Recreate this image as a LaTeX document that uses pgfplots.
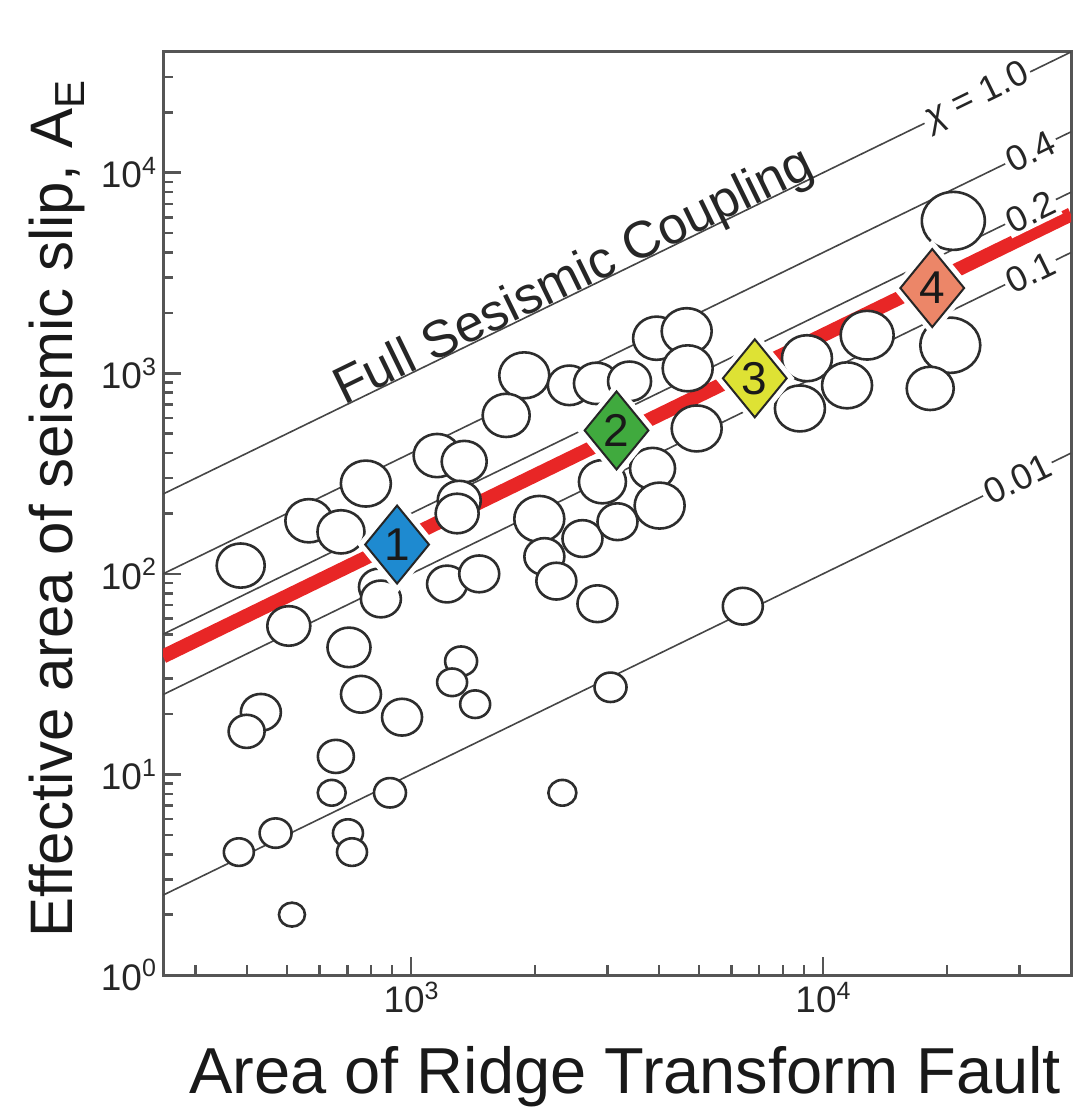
\documentclass[border=0pt]{standalone}
\usepackage{fontspec}
\setmainfont{Liberation Sans}
\usepackage{pgfplots}
\pgfplotsset{compat=1.18}
\usepackage{pgfplotstable}

\definecolor{ringcol}{RGB}{45,45,45}
\definecolor{guide}{RGB}{70,70,70}
\definecolor{fitred}{RGB}{232,38,38}
\definecolor{framecol}{RGB}{85,85,85}
\definecolor{dblue}{RGB}{30,138,208}
\definecolor{dgreen}{RGB}{64,170,62}
\definecolor{dyellow}{RGB}{222,226,52}
\definecolor{dsalmon}{RGB}{236,134,104}

% transform faults: fault area, effective seismic area, symbol diameter
\pgfplotstableread{
x y d
386 110 48
565 184 47
676 162 47
777 282 50
505 55 43
707 43 43
432 20.4 40
399 16.4 36
756 25.1 40
951 19.3 40
657 12.3 36
642 8.1 28
889 8.1 32
469 5.1 32
382 4.1 30
703 5.1 30
719 4.1 30
514 2.0 26
836 86 40
845 75 40
1157 389 47
1346 363 45
1309 232 43
1294 200 43
1223 89 40
1464 100 40
1323 36.7 32
1258 28.8 30
1431 22.4 30
1883 977 50
1702 617 47
2048 188 50
2607 150 40
2107 122 40
2253 92 40
2835 71 40
3050 27.2 32
2330 8.1 28
6388 69 40
2423 871 43
2819 891 45
3392 912 43
3946 1496 47
4668 1622 50
4694 1059 50
4936 531 50
3858 335 45
2915 288 47
4013 219 50
3171 182 40
20720 5754 63
12800 1549 53
9143 1189 50
11440 871 50
8790 668 50
20370 1380 60
18210 841 47
}\faults

% group averages along the fit
\pgfplotstableread{
x y
925 140
3154 519
6831 944
18420 2661
}\groups

\newcommand{\pow}[2]{#1\raisebox{0.36em}{\fontsize{12.5}{12.5}\selectfont #2}}

\begin{document}
\begin{tikzpicture}
\useasboundingbox (-81.5pt,-69pt) rectangle (455pt,487.5pt);
\begin{axis}[
  at={(0,0)}, anchor=south west,
  scale only axis, width=454pt, height=461.5pt,
  xmode=log, ymode=log,
  xmin=250, xmax=40000, ymin=1, ymax=40000,
  axis line style={framecol, line width=1.5pt},
  tick style={framecol, line width=1.3pt},
  major tick length=9pt, minor tick length=5pt,
  tick align=inside, xtick pos=bottom, ytick pos=left,
  xtick={1000,10000},
  xticklabels={\pow{10}{3},\pow{10}{4}},
  minor xtick={300,400,500,600,700,800,900,2000,3000,4000,5000,6000,7000,8000,9000,20000,30000},
  ytick={1,10,100,1000,10000},
  yticklabels={\pow{10}{0},\pow{10}{1},\pow{10}{2},\pow{10}{3},\pow{10}{4}},
  minor ytick={2,3,4,5,6,7,8,9,20,30,40,50,60,70,80,90,200,300,400,500,600,700,800,900,2000,3000,4000,5000,6000,7000,8000,9000,20000,30000},
  ticklabel style={font=\fontsize{18.5}{18.5}\selectfont, text=black!85},
  xlabel={Area of Ridge Transform Fault},
  ylabel={Effective area of seismic slip, A\raisebox{-0.2em}{\fontsize{21}{21}\selectfont E}},
  every axis x label/.style={at={(axis description cs:0.509,0)}, anchor=center, yshift=-51pt,
    font=\fontsize{32.5}{32.5}\selectfont, text=black!90},
  every axis y label/.style={at={(axis description cs:-0.117,0.505)}, anchor=center, rotate=90,
    font=\fontsize{30}{30}\selectfont, text=black!90},
]
% lines of constant seismic coupling
\addplot[guide, line width=0.8pt] coordinates {(250,250) (40000,40000)};
\addplot[guide, line width=0.8pt] coordinates {(250,100) (40000,16000)};
\addplot[guide, line width=0.8pt] coordinates {(250,50) (40000,8000)};
\addplot[guide, line width=0.8pt] coordinates {(250,25) (40000,4000)};
\addplot[guide, line width=0.8pt] coordinates {(250,2.5) (40000,400)};
% best fit
\addplot[fitred, line width=7pt] coordinates {(250,38.75) (40000,6200)};
% individual faults
\addplot[scatter, only marks, mark=*,
  scatter/use mapped color={draw=ringcol, fill=white},
  mark options={line width=1.3pt, yscale=0.92},
  point meta=explicit,
  visualization depends on={\thisrow{d}/4 \as \rad},
  scatter/@pre marker code/.append style={/tikz/mark size=\rad},
] table[x=x, y=y, meta=d] \faults;
% grouped values
\addplot[only marks, mark=diamond*, mark size=19.5pt,
  mark options={draw=white, fill=white, line width=6pt, xscale=1.09}] table \groups;
\addplot[only marks, mark=diamond*, mark size=19.5pt,
  mark options={draw=black!85, fill=dblue, line width=1pt, xscale=1.09}] coordinates {(925,140)};
\addplot[only marks, mark=diamond*, mark size=19.5pt,
  mark options={draw=black!85, fill=dgreen, line width=1pt, xscale=1.09}] coordinates {(3154,519)};
\addplot[only marks, mark=diamond*, mark size=19.5pt,
  mark options={draw=black!85, fill=dyellow, line width=1pt, xscale=1.09}] coordinates {(6831,944)};
\addplot[only marks, mark=diamond*, mark size=19.5pt,
  mark options={draw=black!85, fill=dsalmon, line width=1pt, xscale=1.09}] coordinates {(18420,2661)};
% anchors for the text drawn on top
\coordinate (g1) at (axis cs:925,140);
\coordinate (g2) at (axis cs:3154,519);
\coordinate (g3) at (axis cs:6831,944);
\coordinate (g4) at (axis cs:18420,2661);
\coordinate (l10) at (axis cs:23700,23700);
\coordinate (l04) at (axis cs:31900,12760);
\coordinate (l02) at (axis cs:31900,6380);
\coordinate (l01) at (axis cs:31900,3190);
\coordinate (l001) at (axis cs:29650,296.5);
\coordinate (full) at (axis cs:687,692);
\end{axis}
\begin{scope}[every node/.style={font=\fontsize{23}{23}\selectfont, text=black!90, inner sep=0pt}]
\node at (g1) {1};
\node at (g2) {2};
\node at (g3) {3};
\node at (g4) {4};
\end{scope}
% line labels
\begin{scope}[every node/.style={font=\fontsize{18}{18}\selectfont, text=black!85, fill=white, inner sep=1.5pt, rotate=26}]
\node at (l10) {\textit{χ} = 1.0};
\node at (l04) {0.4};
\node at (l02) {0.2};
\node at (l01) {0.1};
\node at (l001) {0.01};
\end{scope}
\node[rotate=26, anchor=base west, inner sep=0pt, font=\fontsize{26}{26}\selectfont, text=black!85]
  at (full) {Full Sesismic Coupling};
\end{tikzpicture}
\end{document}
